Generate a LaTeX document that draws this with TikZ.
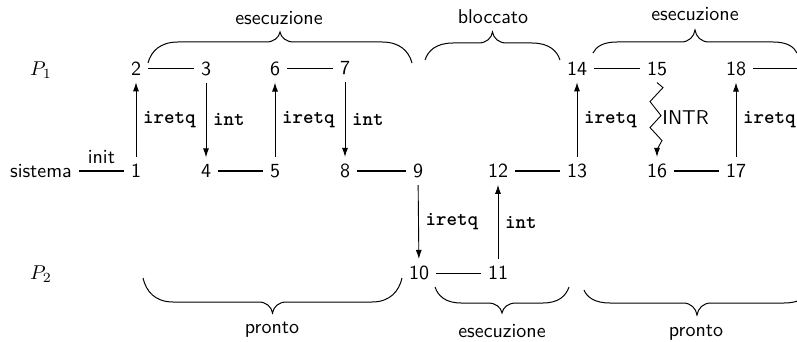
\documentclass[tikz,border=0pt]{standalone}
\usetikzlibrary{arrows.meta,calc}
\newcommand\mybrace[6]{% x1,x2,y0,ys,yt,endwidth
  \pgfmathsetmacro\bxm{(#1+#2)/2}%
  \pgfmathsetmacro\bya{#3+0.55*(#4-#3)}%
  \pgfmathsetmacro\byb{#4+0.45*(#5-#4)}%
  \draw[brc] (#1,#3) .. controls ({#1+3},\bya) and ({#1+0.4*#6},#4) .. ({#1+#6},#4)
    -- ({\bxm-14},#4) .. controls ({\bxm-6},#4) and ({\bxm-1},\byb) .. (\bxm,#5)
    .. controls ({\bxm+1},\byb) and ({\bxm+6},#4) .. ({\bxm+14},#4)
    -- ({#2-#6},#4) .. controls ({#2-0.4*#6},#4) and ({#2-3},\bya) .. (#2,#3);
}
\begin{document}
\begin{tikzpicture}[x=0.5pt,y=-0.5pt,font=\sffamily,
  thinln/.style={line width=0.4pt},
  thickln/.style={line width=1.1pt},
  arr/.style={line width=0.45pt,-{Latex[length=4.5pt,width=3pt]}},
  cmd/.style={font=\ttfamily\bfseries,anchor=west},
  brc/.style={line width=0.5pt}]
\useasboundingbox (0,0) rectangle (797,342);
% row labels
\node (p1) at (41,70) {$P_1$};
\node (p2) at (41,274) {$P_2$};
\node (sis) at (41,171) {sistema};
% events
\node (n1) at (136,171) {1};
\node (n2) at (136,68.5) {2};
\node (n3) at (206,68.5) {3};
\node (n4) at (206,171) {4};
\node (n5) at (275,171) {5};
\node (n6) at (275,68.5) {6};
\node (n7) at (345,68.5) {7};
\node (n8) at (345,171) {8};
\node (n9) at (418,171) {9};
\node (n10) at (419,273) {10};
\node (n11) at (498,273) {11};
\node (n12) at (498,171) {12};
\node (n13) at (577,171) {13};
\node (n14) at (577,68.5) {14};
\node (n15) at (657,68.5) {15};
\node (n16) at (657,171) {16};
\node (n17) at (736,171) {17};
\node (n18) at (736,68.5) {18};
\coordinate (rend) at (820,68.5);
% horizontal segments
\draw[thickln] (sis.east) -- node[above] {init} (n1.west);
\draw[thinln] (n2) -- (n3);
\draw[thickln] (n4) -- (n5);
\draw[thinln] (n6) -- (n7);
\draw[thickln] (n8) -- (n9);
\draw[thinln] (n10) -- (n11);
\draw[thickln] (n12) -- (n13);
\draw[thinln] (n14) -- (n15);
\draw[thickln] (n16) -- (n17);
\draw[thinln] (n18.east) -- (rend);
% transitions
\draw[arr] (n1) -- node[cmd] {iretq} (n2);
\draw[arr] (n3) -- node[cmd] {int} (n4);
\draw[arr] (n5) -- node[cmd] {iretq} (n6);
\draw[arr] (n7) -- node[cmd] {int} (n8);
\draw[arr] (n9) -- node[cmd] {iretq} (n10);
\draw[arr] (n11) -- node[cmd] {int} (n12);
\draw[arr] (n13) -- node[cmd] {iretq} (n14);
\draw[arr] (n17) -- node[cmd] {iretq} (n18);
\draw[arr] (n15.south) -- ++(6,5) -- ++(-13,14) -- ++(11,14)
   node[anchor=west,inner sep=0.5pt,yshift=-1pt] (intr) {INTR}
   -- ++(-11,12) -- ++(12,13) -- ++(-5,9) -- (n16.north);
% braces
\mybrace{148}{412}{63}{42}{32}{30}
\mybrace{425}{560}{60}{43}{32}{28}
\mybrace{593}{797}{53}{42}{30}{24}
\mybrace{143}{402}{278}{302}{313}{30}
\mybrace{435}{569}{287}{303}{313}{26}
\mybrace{584}{810}{290}{303}{315}{26}
% brace labels
\node (le1) at (279,18) {esecuzione};
\node (lb) at (493,17) {bloccato};
\node (le2) at (695,14) {esecuzione};
\node (lp1) at (272,330) {pronto};
\node (le3) at (502,331) {esecuzione};
\node (lp2) at (696,333) {pronto};
\end{tikzpicture}
\end{document}
